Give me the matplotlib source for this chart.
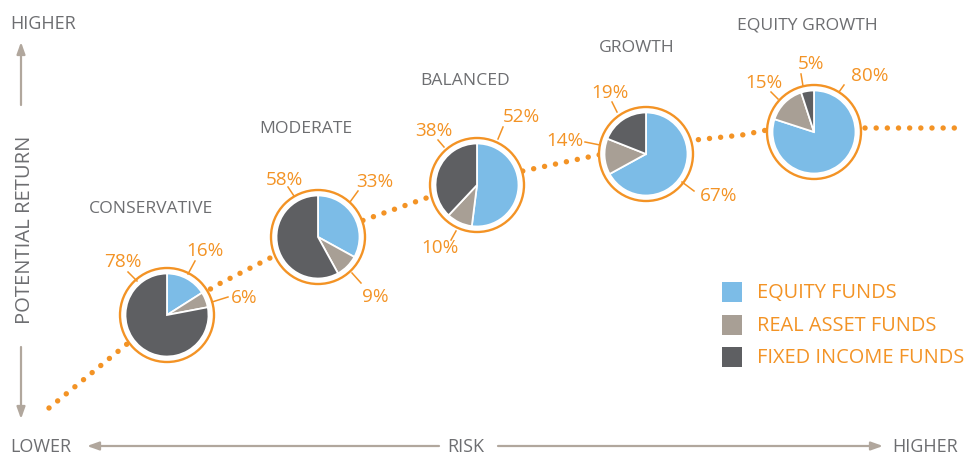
import matplotlib
matplotlib.use("Agg")
import matplotlib.pyplot as plt
from matplotlib.patches import Circle, Rectangle

plt.rcParams['font.family'] = ['Open Sans', 'DejaVu Sans']

# ---------------- data ----------------
profiles = ["CONSERVATIVE", "MODERATE", "BALANCED", "GROWTH", "EQUITY GROWTH"]
equity_pct = [16, 33, 52, 67, 80]
real_asset_pct = [6, 9, 10, 14, 15]
fixed_income_pct = [78, 58, 38, 19, 5]
legend_labels = ["EQUITY FUNDS", "REAL ASSET FUNDS", "FIXED INCOME FUNDS"]
y_axis_label = "POTENTIAL RETURN"
x_axis_label = "RISK"
low_label, high_label = "LOWER", "HIGHER"

# ---------------- style ----------------
ORANGE = "#F39325"
BLUE = "#7CBCE7"
TAN = "#A89F95"
DARK = "#5E5F62"
TEXT = "#6D6E71"
ARROW = "#B1A79D"
seg_colors = [BLUE, TAN, DARK]

W, H = 969, 456
fig = plt.figure(figsize=(W / 100, H / 100), dpi=100)
ax = fig.add_axes([0, 0, 1, 1])

# ---------------- layout (pixel coords, y from top) ----------------
pie_centers = [(167, 316), (318, 238), (477, 186), (646, 155), (814, 133)]
ring_r = 47
pie_r = 41.5
title_pos = [(89, 209), (259, 129), (420, 81), (599, 48), (737, 26)]
# per profile: equity, real asset, fixed income -> (text center, leader start, leader end)
label_layout = [
    [((205, 251), (195, 262), (188, 275)),
     ((244, 298), (228, 298), (212, 303)),
     ((123, 262), (128, 273), (137, 282))],
    [((375, 182), (358, 192), (350, 203)),
     ((375, 297), (352, 274), (361, 284)),
     ((285, 180), (288, 188), (294, 197))],
    [((521, 117), (503, 128), (498, 140)),
     ((440, 248), (456, 232), (451, 241)),
     ((434, 131), (438, 141), (444, 148))],
    [((719, 196), (682, 183), (694, 192)),
     ((565, 141), (585, 143), (600, 146)),
     ((610, 93), (612, 103), (617, 113))],
    [((870, 76), (844, 86), (839, 93)),
     ((764, 83), (771, 93), (778, 100)),
     ((811, 64), (801, 75), (803, 87))],
]
path_pts = [(49, 409), (127, 345), (215, 287), (272, 258), (364, 221),
            (432, 197), (523, 172), (598, 156), (695, 141), (742, 136),
            (767, 131), (863, 129), (957, 129)]

# dotted trend line
ax.plot([p[0] for p in path_pts], [p[1] for p in path_pts], color=ORANGE,
        lw=3.9, linestyle=(0, (0.01, 2.05)), dash_capstyle='round', zorder=1)

series = list(zip(equity_pct, real_asset_pct, fixed_income_pct))
for i, (name, vals) in enumerate(zip(profiles, series)):
    cx, cy = pie_centers[i]
    ax.add_patch(Circle((cx, cy), ring_r, facecolor='white', edgecolor=ORANGE,
                        lw=1.7, zorder=2))
    ax.pie(vals, colors=seg_colors, radius=pie_r, center=(cx, cy),
           startangle=-90, counterclock=True, frame=True,
           wedgeprops=dict(edgecolor='white', linewidth=1.3, zorder=3))
    tx, ty = title_pos[i]
    ax.text(tx, ty, name, color=TEXT, fontsize=12.6, ha='left', va='center',
            zorder=5)
    for v, (tc, l0, l1) in zip(vals, label_layout[i]):
        ax.plot([l0[0], l1[0]], [l0[1], l1[1]], color=ORANGE, lw=1.1, zorder=4)
        ax.text(tc[0], tc[1], f"{v}%", color=ORANGE, fontsize=13.6,
                ha='center', va='center', zorder=5)

# axes arrows
arrow_kw = dict(arrowstyle='-|>,head_length=0.7,head_width=0.25', color=ARROW,
                lw=1.6, shrinkA=0, shrinkB=0)
ax.annotate('', xy=(21, 43), xytext=(21, 106), arrowprops=arrow_kw)
ax.annotate('', xy=(21, 420), xytext=(21, 348), arrowprops=arrow_kw)
ax.annotate('', xy=(87, 447), xytext=(439, 447), arrowprops=arrow_kw)
ax.annotate('', xy=(883, 447), xytext=(498, 447), arrowprops=arrow_kw)

ax.text(10, 24, high_label, color=TEXT, fontsize=13, ha='left', va='center')
ax.text(25, 230, y_axis_label, color=TEXT, fontsize=14.6, ha='center',
        va='center', rotation=90)
ax.text(10, 447, low_label, color=TEXT, fontsize=13, ha='left', va='center')
ax.text(466, 447, x_axis_label, color=TEXT, fontsize=13, ha='center', va='center')
ax.text(892, 447, high_label, color=TEXT, fontsize=13, ha='left', va='center')

# legend
leg_y = [293, 326, 358]
for lab, col, ly in zip(legend_labels, seg_colors, leg_y):
    ax.add_patch(Rectangle((722, ly - 10), 20, 20, facecolor=col, edgecolor='none'))
    ax.text(757, ly, lab, color=ORANGE, fontsize=14.4, ha='left', va='center')

ax.set_xlim(0, W)
ax.set_ylim(H, 0)
ax.set_aspect('auto')
ax.axis('off')
fig.savefig("out.png", dpi=100)
